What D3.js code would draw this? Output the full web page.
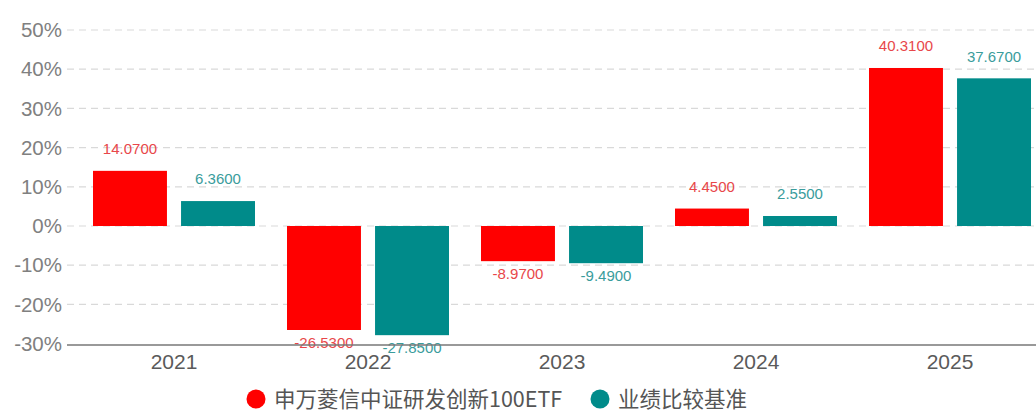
<!DOCTYPE html>
<html lang="zh">
<head>
    <meta charset="UTF-8">
    <title>业绩比较</title>
    <script src="https://d3js.org/d3.v7.min.js"></script>
    <style>
        body { margin: 0; background: #fff; }
        .tick_text { font-family: "Liberation Sans", Arial, sans-serif; }
        .legend_text { font-family: "Noto Sans CJK SC", sans-serif; }
    </style>
</head>
<body>
<svg width="1036" height="414"></svg>

<script>
    // data
    const years = ["2021", "2022", "2023", "2024", "2025"];
    const seriesNames = ["申万菱信中证研发创新100ETF", "业绩比较基准"];
    const fundValues = [14.07, -26.53, -8.97, 4.45, 40.31];
    const benchValues = [6.36, -27.85, -9.49, 2.55, 37.67];
    const yTicks = [-30, -20, -10, 0, 10, 20, 30, 40, 50];

    const colors = ["#ff0000", "#008b8a"];
    const labelColors = ["#e8474a", "#3a9c9c"];

    let svg = d3.select("svg");

    // scales
    let x0 = d3.scaleBand().domain(years).range([77, 1047])
        .paddingInner(0.165).paddingOuter(0.0825);
    let x1 = d3.scaleBand().domain([0, 1]).range([0, x0.bandwidth()]).paddingInner(0.16);
    let y = d3.scaleLinear().domain([-30, 50]).range([343.6, 30]);

    // grid lines
    svg.append("g").selectAll("line")
        .data(yTicks.filter(d => d > -30))
        .enter().append("line")
        .attr("x1", 67).attr("x2", 1036)
        .attr("y1", d => y(d)).attr("y2", d => y(d))
        .attr("stroke", "#d9d9d9")
        .attr("stroke-width", 1.2)
        .attr("stroke-dasharray", "7,5");

    // y tick labels
    svg.append("g").selectAll("text")
        .data(yTicks)
        .enter().append("text")
        .attr("class", "tick_text")
        .attr("x", 62).attr("y", d => y(d))
        .attr("dy", "0.35em")
        .attr("text-anchor", "end")
        .attr("font-size", "20.5px")
        .attr("fill", "#808080")
        .text(d => d + "%");

    // build rows
    let rows = years.map((yr, i) => ({ year: yr, vals: [fundValues[i], benchValues[i]] }));

    let groups = svg.append("g").selectAll("g")
        .data(rows)
        .enter().append("g")
        .attr("transform", d => "translate(" + x0(d.year) + ",0)");

    groups.selectAll("rect")
        .data(d => d.vals.map((v, k) => ({ k: k, v: v })))
        .enter().append("rect")
        .attr("x", d => x1(d.k))
        .attr("width", x1.bandwidth())
        .attr("y", d => Math.min(y(d.v), y(0)))
        .attr("height", d => Math.abs(y(d.v) - y(0)))
        .attr("fill", d => colors[d.k]);

    groups.selectAll("text")
        .data(d => d.vals.map((v, k) => ({ k: k, v: v })))
        .enter().append("text")
        .attr("class", "tick_text")
        .attr("x", d => x1(d.k) + x1.bandwidth() / 2)
        .attr("y", d => d.v >= 0 ? y(d.v) - 22 : y(d.v) + 13)
        .attr("dy", "0.35em")
        .attr("text-anchor", "middle")
        .attr("font-size", "15px")
        .attr("fill", d => labelColors[d.k])
        .text(d => d.v.toFixed(4));

    // x axis line
    svg.append("line")
        .attr("x1", 67).attr("x2", 1036)
        .attr("y1", 345).attr("y2", 345)
        .attr("stroke", "#777").attr("stroke-width", 1.5);

    // x labels
    svg.append("g").selectAll("text")
        .data(years)
        .enter().append("text")
        .attr("class", "tick_text")
        .attr("x", d => x0(d) + x0.bandwidth() / 2)
        .attr("y", 362).attr("dy", "0.35em")
        .attr("text-anchor", "middle")
        .attr("font-size", "21px")
        .attr("fill", "#5a5a5a")
        .text(d => d);

    // legend
    let legendX = [256, 600];
    let legend = svg.append("g").selectAll("g")
        .data(seriesNames)
        .enter().append("g")
        .attr("transform", (d, i) => "translate(" + legendX[i] + ",399)");
    legend.append("circle").attr("r", 9.5).attr("fill", (d, i) => colors[i]);
    legend.append("text")
        .attr("class", "legend_text")
        .attr("x", 18).attr("dy", "0.35em")
        .attr("font-size", "21.5px")
        .attr("fill", "#555")
        .text(d => d);
</script>
</body>
</html>
